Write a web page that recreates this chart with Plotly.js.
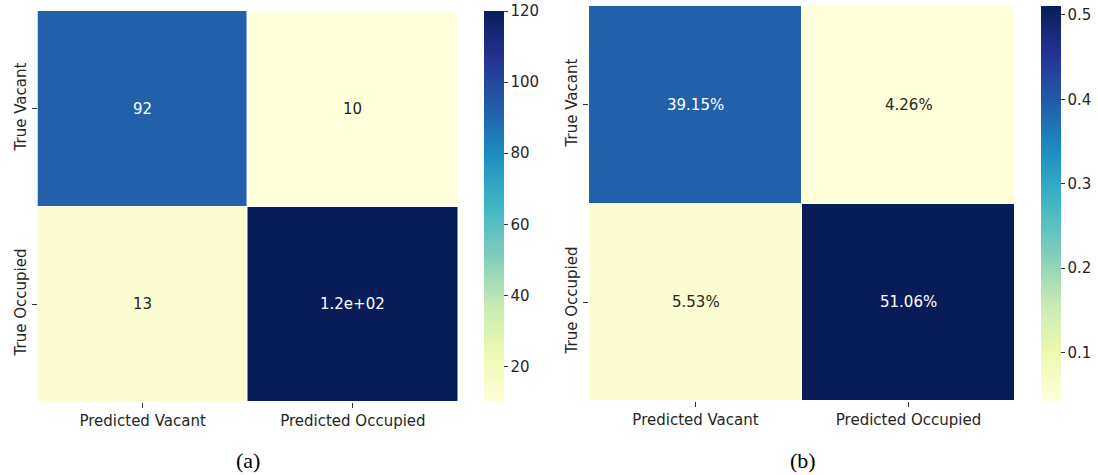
<!DOCTYPE html>
<html>
<head>
<meta charset="utf-8">
<script src="https://cdn.plot.ly/plotly-3.0.1.min.js"></script>
<style>html,body{margin:0;padding:0;background:#fff;}#chart{width:1098px;height:475px;}</style>
</head>
<body>
<div id="chart"></div>
<script>
// ---- data ----
const predLabels = ["Predicted Vacant", "Predicted Occupied"];
const trueLabels = ["True Vacant", "True Occupied"];
const countsVacant = [92, 10];      // row: True Vacant
const countsOccupied = [13, 120];   // row: True Occupied
const pctVacant = [39.15, 4.26];    // percent of total
const pctOccupied = [5.53, 51.06];
const countTicks = [20, 40, 60, 80, 100, 120];
const fracTicks = [0.1, 0.2, 0.3, 0.4, 0.5];
const captions = ["(a)", "(b)"];

// ---- styling ----
const YlGnBu = [
  [0.000, '#ffffd9'], [0.125, '#edf8b1'], [0.250, '#c7e9b4'], [0.375, '#7fcdbb'],
  [0.500, '#41b6c4'], [0.625, '#1d91c0'], [0.750, '#225ea8'], [0.875, '#253494'],
  [1.000, '#081d58']
];
const FONT = 'DejaVu Sans, sans-serif';
const TXT = '#262626';
const FS = 15;

function g2(v) {
  let s = Number(v).toPrecision(2);
  return s.replace(/e([+-])(\d)$/, 'e$10$2');
}

const zCounts = [countsVacant, countsOccupied];
const zFrac = [pctVacant.map(v => v / 100), pctOccupied.map(v => v / 100)];
const pctRows = [pctVacant, pctOccupied];

function minmax(z) {
  const f = z.flat();
  return [Math.min(...f), Math.max(...f)];
}
const [cMin, cMax] = minmax(zCounts);
const [fMin, fMax] = minmax(zFrac);

const H = 475;
const W = 1098;
const yA = [1 - 402 / H, 1 - 11 / H];
const yB = [1 - 401 / H, 1 - 6 / H];

const traces = [
  {
    type: 'heatmap', x: predLabels, y: trueLabels, z: zCounts,
    colorscale: YlGnBu, zmin: cMin, zmax: cMax, xgap: 1, ygap: 1,
    xaxis: 'x', yaxis: 'y', hoverinfo: 'skip',
    colorbar: {
      thickness: 20, thicknessmode: 'pixels', len: yA[1] - yA[0], lenmode: 'fraction',
      x: 484 / W, xanchor: 'left', y: yA[0], yanchor: 'bottom', xpad: 0, ypad: 0,
      outlinewidth: 0, tickvals: countTicks, ticks: 'outside', ticklen: 4, tickwidth: 1,
      tickcolor: '#333', tickfont: {family: FONT, size: FS, color: TXT}
    }
  },
  {
    type: 'heatmap', x: predLabels, y: trueLabels, z: zFrac,
    colorscale: YlGnBu, zmin: fMin, zmax: fMax, xgap: 1, ygap: 1,
    xaxis: 'x2', yaxis: 'y2', hoverinfo: 'skip',
    colorbar: {
      thickness: 20, thicknessmode: 'pixels', len: yB[1] - yB[0], lenmode: 'fraction',
      x: 1041 / W, xanchor: 'left', y: yB[0], yanchor: 'bottom', xpad: 0, ypad: 0,
      outlinewidth: 0, tickvals: fracTicks, ticktext: fracTicks.map(v => v.toFixed(1)),
      ticks: 'outside', ticklen: 4, tickwidth: 1,
      tickcolor: '#333', tickfont: {family: FONT, size: FS, color: TXT}
    }
  }
];

const annotations = [];
function cellText(z, fmt, xa, ya, range) {
  z.forEach((row, i) => row.forEach((v, j) => {
    const t = (v - range[0]) / (range[1] - range[0]);
    annotations.push({
      x: predLabels[j], y: trueLabels[i], xref: xa, yref: ya,
      text: fmt(v, i, j), showarrow: false,
      font: {family: FONT, size: FS, color: t > 0.5 ? '#ffffff' : TXT}
    });
  }));
}
cellText(zCounts, v => g2(v), 'x', 'y', [cMin, cMax]);
cellText(zFrac, (v, i, j) => pctRows[i][j].toFixed(2) + '%', 'x2', 'y2', [fMin, fMax]);

[[248, captions[0]], [803, captions[1]]].forEach(([px, txt]) => {
  annotations.push({x: px / W, y: 1 - 460 / H, xref: 'paper', yref: 'paper', text: txt,
    xanchor: 'center', yanchor: 'middle', showarrow: false,
    font: {family: 'Liberation Serif, serif', size: 22, color: '#000'}});
});

function xax(dom, anchor) {
  return {domain: dom, anchor: anchor, type: 'category', showgrid: false, zeroline: false,
    showline: false, ticks: 'outside', ticklen: 5, tickwidth: 1, tickcolor: '#333',
    tickfont: {family: FONT, size: FS, color: TXT}, fixedrange: true};
}
function yax(dom, anchor) {
  return {domain: dom, anchor: anchor, type: 'category', autorange: 'reversed', showgrid: false,
    zeroline: false, showline: false, ticks: 'outside', ticklen: 5, tickwidth: 1, tickcolor: '#333',
    tickangle: -90, tickfont: {family: FONT, size: FS, color: TXT}, fixedrange: true};
}

const layout = {
  width: W, height: H,
  margin: {l: 0, r: 0, t: 0, b: 0},
  paper_bgcolor: '#fff', plot_bgcolor: '#fff',
  xaxis: xax([37.5 / W, 458 / W], 'y'),
  yaxis: yax(yA, 'x'),
  xaxis2: xax([589 / W, 1015 / W], 'y2'),
  yaxis2: yax(yB, 'x2'),
  annotations: annotations,
  showlegend: false
};

Plotly.newPlot('chart', traces, layout, {displayModeBar: false, staticPlot: true});
</script>
</body>
</html>
